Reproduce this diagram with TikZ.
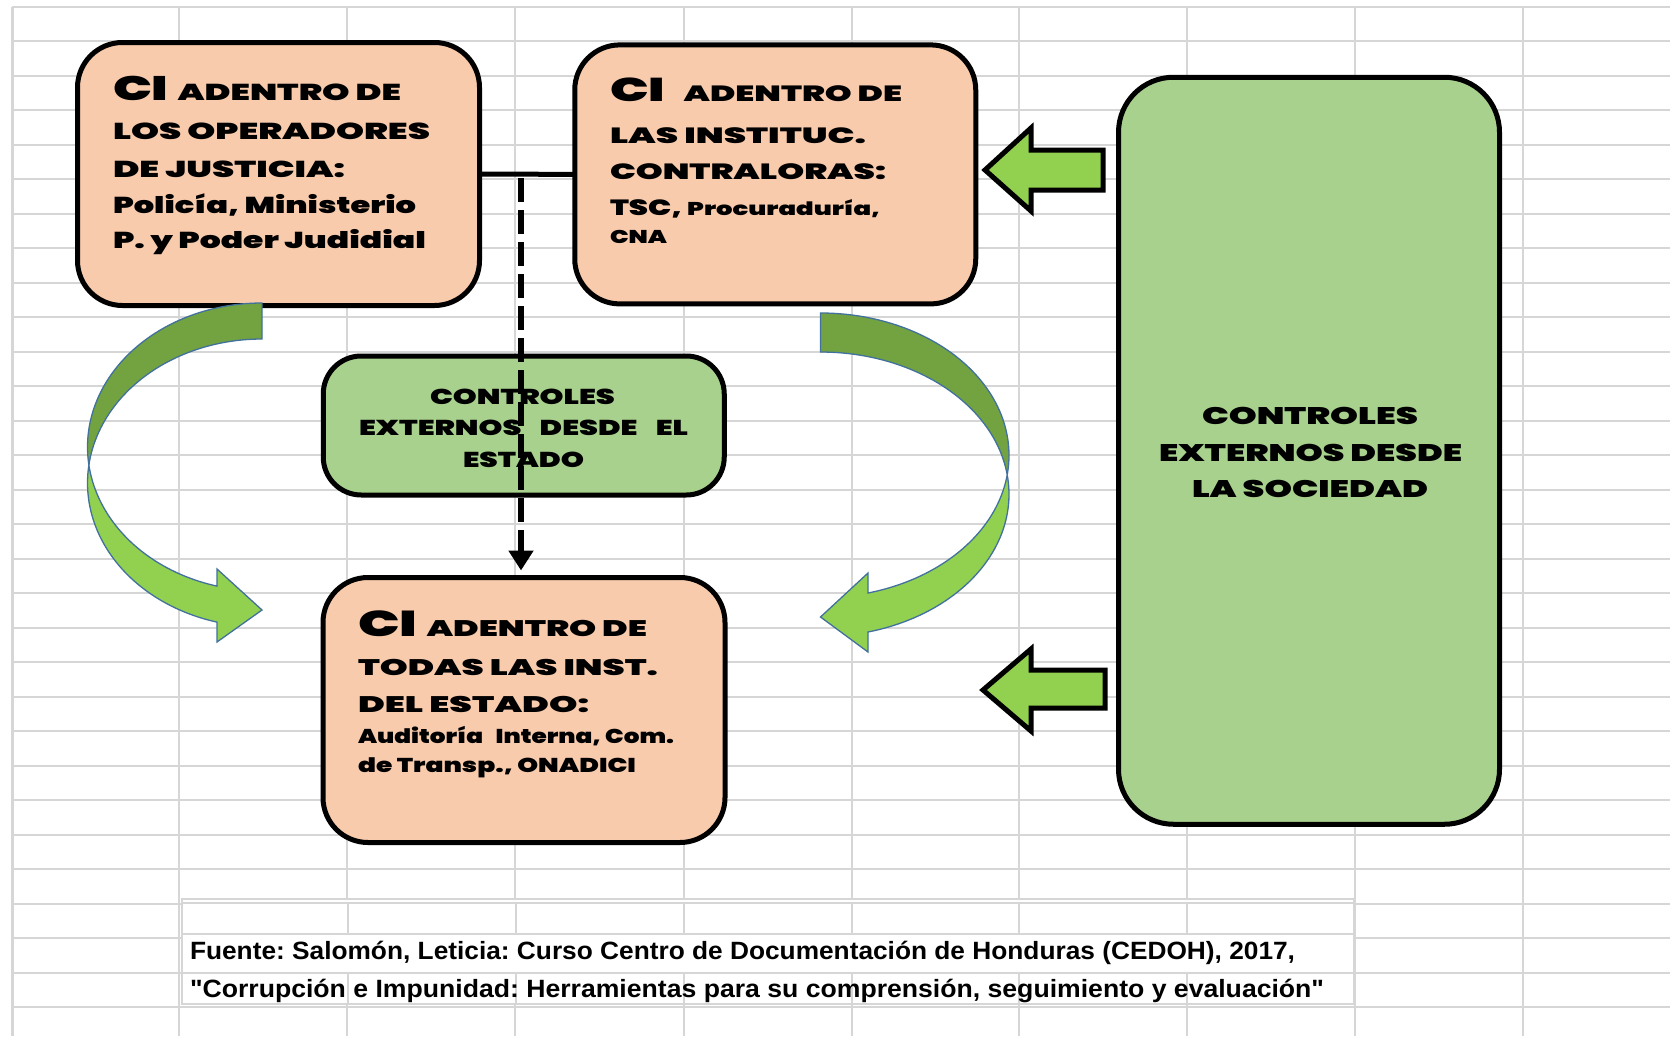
\documentclass[tikz,border=0pt]{standalone}
\usepackage{fontspec}
\usepackage{graphicx}
\usetikzlibrary{arrows.meta}
\setmainfont{Liberation Sans}
\IfFontExistsTF{Poppins Black}{\newfontfamily\hv{Poppins Black}}{%
  \IfFontExistsTF{Poppins ExtraBold}{\newfontfamily\hv{Poppins ExtraBold}}{%
    \newfontfamily\hv{Liberation Sans Bold}[FakeBold=1.5]}}
\newfontfamily\ft{Liberation Sans Bold}
\newcommand\tl[2]{\resizebox{#1pt}{\height}{#2}}
\newcommand\sz[1]{\fontsize{#1}{#1}\selectfont}
\definecolor{peach}{HTML}{F8CBAD}
\definecolor{boxg}{HTML}{A9D18E}
\definecolor{arrowg}{HTML}{92D050}
\definecolor{darkg}{HTML}{72A340}
\definecolor{outl}{HTML}{41719C}
\definecolor{gridc}{HTML}{D6D6D6}
\frenchspacing
\begin{document}
\begin{tikzpicture}[x=1pt,y=-1pt,
  gridline/.style={draw=gridc, line width=2.2pt},
  pbox/.style={draw, line width=5pt, fill=peach, rounded corners=45pt, inner sep=0pt, outer sep=0pt},
  gbox/.style={draw, line width=5pt, fill=boxg, rounded corners=40pt, inner sep=0pt, outer sep=0pt},
  txt/.style={anchor=base west, inner sep=0pt, outer sep=0pt, font=\hv},
  ftxt/.style={anchor=base west, inner sep=0pt, outer sep=0pt, font=\ft\sz{25}},
  conn/.style={line width=5pt},
  dashconn/.style={line width=6.5pt, dash pattern=on 24pt off 8pt, -{Triangle[width=24pt,length=20pt]}},
  blockarrow/.style={draw, line width=5pt, fill=arrowg, line join=miter, miter limit=10},
  curvdark/.style={fill=darkg, draw=outl, line width=1.3pt},
  curvlight/.style={fill=arrowg, draw=outl, line width=1.3pt}]
\useasboundingbox[fill=white] (0,0) rectangle (1670,1036);
% spreadsheet grid
\foreach \k in {0,...,29} \draw[gridline] (12,{6.7+34.5*\k}) -- (1670,{6.7+34.5*\k});
\foreach \xx in {179,347,515,684,852,1019,1187,1355,1523} \draw[gridline] (\xx,6.7) -- (\xx,1036);
\draw[gridline, line width=3pt] (12,6.7) -- (12,1036);
% footer picture
\fill[white] (182,899) rectangle (1354,1004);
\draw[gridline, line width=1.8pt] (182,899) rectangle (1354,1004);
\draw[gridline, line width=1.8pt] (182,903) -- (1354,903);
\draw[gridline, line width=1.8pt] (182,934) -- (1354,934) (182,973) -- (1354,973);
\foreach \xx in {348,516,684,852,1019,1187} {
  \draw[gridline, line width=1.8pt] (\xx,903) -- (\xx,934);
  \draw[gridline, line width=1.8pt] (\xx,973) -- (\xx,1004);
}
\node[ftxt] (f1) at (190,959) {\tl{1105}{Fuente: Salomón, Leticia: Curso Centro de Documentación de Honduras (CEDOH), 2017,}};
\node[ftxt] (f2) at (190,997) {\tl{1134}{"Corrupción e Impunidad: Herramientas para su comprensión, seguimiento y evaluación"}};
% boxes
\node[pbox, minimum width=402pt, minimum height=263pt] (boxA) at (278.5,174) {};
\node[pbox, minimum width=401pt, minimum height=259pt] (boxB) at (775.25,174.4) {};
\node[gbox, rounded corners=38pt, minimum width=401pt, minimum height=139pt] (boxC) at (523.75,425.5) {};
\node[pbox, minimum width=402pt, minimum height=265pt] (boxD) at (524,710) {};
\node[gbox, rounded corners=55pt, minimum width=381pt, minimum height=747pt] (boxE) at (1309,450.75) {};
% texts box A
\node[txt] (a1) at (113,100) {\tl{288}{\sz{34}CI\hspace{6pt}\sz{23}ADENTRO DE}};
\node[txt] (a2) at (113,139) {\tl{317}{\sz{23}LOS OPERADORES}};
\node[txt] (a3) at (113,177) {\tl{232}{\sz{23}DE JUSTICIA:}};
\node[txt] (a4) at (113,213) {\tl{303}{\sz{23}Policía, Ministerio}};
\node[txt] (a5) at (113,248) {\tl{313}{\sz{23}P. y Poder Judidial}};
% texts box B
\node[txt] (b1) at (610,101.5) {\tl{292}{\sz{33}CI\hspace{12pt}\sz{22}ADENTRO DE}};
\node[txt] (b2) at (610,143) {\tl{256}{\sz{22}LAS INSTITUC.}};
\node[txt] (b3) at (610,179) {\tl{276}{\sz{22}CONTRALORAS:}};
\node[txt] (b4) at (610,215) {\tl{270}{\sz{22}TSC, \sz{18.5}Procuraduría,}};
\node[txt] (b5) at (610,243) {\tl{57}{\sz{18.5}CNA}};
% texts box C
\node[txt] (c1) at (430,404) {\tl{185}{\sz{21.5}CONTROLES}};
\node[txt] (c2) at (359,435) {\tl{329}{\sz{21.5}EXTERNOS\hspace{0.6em}DESDE\hspace{0.6em}EL}};
\node[txt] (c3) at (463,467) {\tl{121}{\sz{21.5}ESTADO}};
% texts box D
\node[txt] (d1) at (358,636) {\tl{289}{\sz{36}CI\hspace{6pt}\sz{22.5}ADENTRO DE}};
\node[txt] (d2) at (358,675) {\tl{300}{\sz{22.5}TODAS LAS INST.}};
\node[txt] (d3) at (358,712) {\tl{231}{\sz{22.5}DEL ESTADO:}};
\node[txt] (d4) at (358,743) {\tl{316}{\sz{20}Auditoría\hspace{0.5em}Interna, Com.}};
\node[txt] (d5) at (358,772) {\tl{278}{\sz{20}de Transp., ONADICI}};
% texts box E
\node[txt] (e1) at (1202,424) {\tl{216}{\sz{24}CONTROLES}};
\node[txt] (e2) at (1159,461) {\tl{303}{\sz{24}EXTERNOS DESDE}};
\node[txt] (e3) at (1192,497) {\tl{236}{\sz{24}LA SOCIEDAD}};
% connectors
\draw[conn] (boxA.east) -- (boxB.west);
\coordinate (j) at (521,174);
\draw[dashconn, shorten <=4pt, shorten >=7pt] (j) -- (j |- boxD.north);
% block arrows from society box
\draw[blockarrow] (985,170) -- (1031,128) -- (1031,150) -- (1103,150) -- (1103,190) -- (1031,190) -- (1031,211) -- cycle;
\draw[blockarrow] (983,690) -- (1031,649) -- (1031,670) -- (1105,670) -- (1105,708) -- (1031,708) -- (1031,731) -- cycle;
% left curved arrow
\filldraw[curvdark] plot[domain=270:172.82, samples=50] ({262+174.5*cos(\x)},{447+144*sin(\x)})
  -- plot[domain=187.18:270, samples=50] ({262+174.5*cos(\x)},{483+144*sin(\x)}) -- cycle;
\filldraw[curvlight] plot[domain=187.18:104.94, samples=50] ({262+174.5*cos(\x)},{483+144*sin(\x)})
  -- (217,642) -- (262,610) -- (217,569)
  -- plot[domain=104.94:172.82, samples=50] ({262+174.5*cos(\x)},{447+144*sin(\x)}) -- cycle;
% right curved arrow
\filldraw[curvdark] plot[domain=-90:7.88, samples=50] ({820.5+188.5*cos(\x)},{455.3+142.3*sin(\x)})
  -- plot[domain=-7.88:-90, samples=50] ({820.5+188.5*cos(\x)},{494.3+142.3*sin(\x)}) -- cycle;
\filldraw[curvlight] plot[domain=-7.88:75.4, samples=50] ({820.5+188.5*cos(\x)},{494.3+142.3*sin(\x)})
  -- (868,652) -- (820.5,617) -- (868,573)
  -- plot[domain=75.4:7.88, samples=50] ({820.5+188.5*cos(\x)},{455.3+142.3*sin(\x)}) -- cycle;
\end{tikzpicture}
\end{document}
